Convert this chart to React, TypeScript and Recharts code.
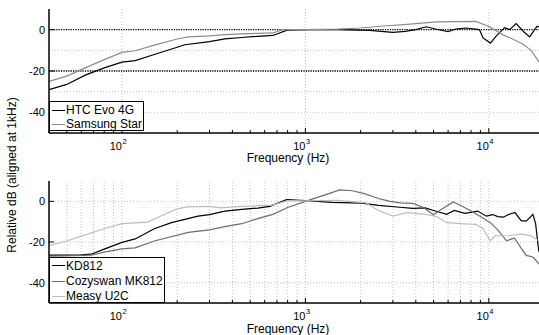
import { LineChart, Line, XAxis, YAxis, ReferenceLine, Label } from "recharts";

// frequency axis ticks (log decades with minor ticks)
const xTicks = [
  40, 50, 60, 70, 80, 90, 100, 200, 300, 400, 500, 600, 700, 800, 900, 1000,
  2000, 3000, 4000, 5000, 6000, 7000, 8000, 9000, 10000, 20000,
];
const majorX = [100, 1000, 10000];
const yTicks = [0, -20, -40];
const topGridY = [0, -10, -20, -30, -40];
const topRefY = [0, -20];
const bottomGridY = [0, -20, -40];
const bottomGridX = xTicks.filter((f) => f > 40 && f < 20000);

// top panel: phones
const htcFreq = [
  40, 50, 63, 80, 100, 118, 150, 200, 220, 300, 364, 450, 550, 665, 795, 1000,
  1500, 2240, 3000, 3500, 4000, 4560, 5200, 6000, 6600, 7500, 8900, 9300,
  10200, 11000, 12200, 13000, 14100, 15500, 16700, 18300, 20000,
];
const htcDb = [
  -29, -26.5, -22, -18.5, -15.7, -15, -12, -8.5, -7.3, -5.8, -4.5, -3.8, -3.2,
  -2.8, -0.2, 0, 0, -0.3, -1.3, -0.8, 0, 1.4, 0.2, -0.9, 0.3, 0.8, 0, -4, -6.5,
  -3, 1, 0, 2.9, -1, -3.5, 1.6, 1,
];
const samsungFreq = [
  40, 50, 63, 80, 100, 118, 150, 200, 230, 300, 364, 450, 550, 665, 750, 1000,
  1500, 2000, 2770, 3300, 4000, 5190, 6500, 8500, 9700, 10000, 11900, 13500,
  15300, 17000, 18700, 20000,
];
const samsungDb = [
  -25, -22.5, -18.5, -14.5, -11, -10.2, -7.5, -4.5, -3.5, -3, -2.4, -2, -1.8,
  -1.6, 0, 0, 0.3, 0.8, 1.9, 2.3, 2.9, 3.8, 3.9, 4, 2, 1.6, -2.4, -4.5, -6.9,
  -10, -15.3, -18,
];

// bottom panel: adapters
const kdFreq = [
  40, 50, 60, 68, 80, 100, 118, 150, 186, 260, 300, 364, 450, 550, 640, 790,
  1000, 1400, 2040, 2500, 3270, 3860, 4500, 5000, 5890, 6500, 7400, 8700,
  9700, 10500, 11200, 12000, 12800, 13900, 15000, 16000, 17400, 18000, 18700,
  20000,
];
const kdDb = [
  -26.5, -26.5, -26.3, -26, -23.5, -20.2, -18.5, -13.5, -10.5, -7.3, -6.5,
  -4.8, -4, -3.3, -2.5, 0.8, 0.3, -0.5, -0.9, -2, -2.9, -3.5, -3.2, -4.5, -6.4,
  -4.5, -5.9, -4.8, -7.3, -6.5, -7.5, -7.8, -6.5, -5.5, -9.5, -9.7, -6.4, -11,
  -24, -31,
];
const cozyFreq = [
  40, 50, 68, 80, 100, 118, 150, 230, 300, 364, 450, 550, 665, 800, 1000, 1280,
  1540, 1800, 2100, 2500, 2900, 3300, 3860, 4400, 5000, 5600, 6400, 7200, 8000,
  9000, 10200, 11200, 12500, 13800, 15000, 16000, 17500, 18700, 20000,
];
const cozyDb = [
  -27, -26.8, -26.5, -25, -23.4, -22.9, -19.5, -15.3, -14, -12.4, -11, -8.5,
  -6.4, -3, 0, 3.2, 5.6, 5.2, 3.8, 1.4, 0, -0.8, -1, -3, -6.6, -3.5, -0.3,
  -2.5, -4.8, -7.5, -10.5, -14, -19.4, -18, -23, -26.6, -27.5, -30.7, -32,
];
const measyFreq = [
  40, 50, 63, 80, 100, 138, 195, 225, 300, 342, 450, 665, 800, 1000, 1500,
  1800, 2150, 2500, 3000, 3600, 4560, 5200, 5890, 7100, 8500, 9300, 10200,
  10800, 13000, 15300, 17000, 18700, 20000,
];
const measyDb = [
  -21.8, -19.5, -16.5, -13.5, -11, -10.2, -4, -2.7, -2.5, -3.2, -2.5, -1.9,
  0.3, 0.2, 0.5, -0.1, -0.8, -4.5, -7.3, -5.6, -6.4, -7.5, -10.5, -11, -11.3,
  -13.5, -19.4, -17, -16.8, -16.1, -17, -19.4, -20,
];

const topSeries = [
  { name: "HTC Evo 4G", freq: htcFreq, db: htcDb, color: "#000000" },
  { name: "Samsung Star", freq: samsungFreq, db: samsungDb, color: "#8c8c8c" },
];
const bottomSeries = [
  { name: "KD812", freq: kdFreq, db: kdDb, color: "#000000" },
  { name: "Cozyswan MK812", freq: cozyFreq, db: cozyDb, color: "#6e6e6e" },
  { name: "Measy U2C", freq: measyFreq, db: measyDb, color: "#bdbdbd" },
];

const FONT = "'Liberation Sans', Arial, Helvetica, sans-serif";

function BottomTick(props: any) {
  const { x, y, payload } = props;
  const v = payload.value;
  const major = majorX.includes(v);
  const exp = Math.round(Math.log10(v));
  return (
    <g>
      <line x1={x} x2={x} y1={y} y2={y - (major ? 5 : 3)} stroke="#000" strokeWidth={1} />
      {major && (
        <text fontFamily={FONT} fill="#000">
          <tspan x={x} y={y + 16.5} fontSize={11} textAnchor="end">10</tspan>
          <tspan x={x + 0.5} y={y + 11} fontSize={7.5} textAnchor="start">{exp}</tspan>
        </text>
      )}
    </g>
  );
}

function TopTick(props: any) {
  const { x, y, payload } = props;
  const major = majorX.includes(payload.value);
  return <line x1={x} x2={x} y1={y} y2={y + (major ? 5 : 3)} stroke="#000" strokeWidth={1} />;
}

function LeftTick(props: any) {
  const { x, y, payload } = props;
  return (
    <g>
      <line x1={x} x2={x + 5} y1={y} y2={y} stroke="#000" strokeWidth={1} />
      <text x={x - 4} y={y + 4} textAnchor="end" fontSize={11} fontFamily={FONT} fill="#000">
        {payload.value}
      </text>
    </g>
  );
}

function LegendBox({ items, left, top, width, rows }: any) {
  return (
    <div
      style={{
        position: "absolute",
        left,
        top,
        width,
        height: rows[rows.length - 1] + 8,
        border: "1.5px solid #000",
        boxSizing: "border-box",
        background: "#fff",
        fontFamily: FONT,
        fontSize: 12,
      }}
    >
      {items.map((s: any, i: number) => (
        <div key={s.name} style={{ position: "absolute", left: 2, top: rows[i] - 8, height: 16, display: "flex", alignItems: "center", whiteSpace: "nowrap" }}>
          <div style={{ width: 13, height: 0, borderTop: `1.3px solid ${s.color}`, marginRight: 1 }} />
          <span>{s.name}</span>
        </div>
      ))}
    </div>
  );
}

function Panel({ series, height, marginTop, axisHeight, gridX, gridY, refY, labelDy }: any) {
  return (
    <LineChart width={560} height={height} margin={{ top: marginTop, right: 16, bottom: 0, left: 0 }}>
      {gridX.map((f: number) => (
        <ReferenceLine key={"gx" + f} x={f} stroke="#b4b4b4" strokeDasharray="1 2" strokeWidth={0.8} />
      ))}
      {gridY.map((v: number) => (
        <ReferenceLine key={"gy" + v} y={v} stroke="#b4b4b4" strokeDasharray="1 2" strokeWidth={0.8} />
      ))}
      {refY.map((v: number) => (
        <ReferenceLine key={"ry" + v} y={v} stroke="#000" strokeDasharray="1.2 1.2" strokeWidth={1.4} />
      ))}
      <XAxis
        dataKey="f"
        type="number"
        scale="log"
        domain={[40, 20000]}
        allowDataOverflow
        ticks={xTicks}
        interval={0}
        height={axisHeight}
        tickSize={0}
        tickMargin={0}
        tickLine={false}
        axisLine={{ stroke: "#000", strokeWidth: 1.5 }}
        tick={<BottomTick />}
      >
        <Label
          content={(p: any) => (
            <text x={288} y={p.viewBox.y + labelDy} textAnchor="middle" fontSize={12} fontFamily={FONT} fill="#000">
              Frequency (Hz)
            </text>
          )}
        />
      </XAxis>
      <XAxis
        xAxisId="top"
        orientation="top"
        dataKey="f"
        type="number"
        scale="log"
        domain={[40, 20000]}
        allowDataOverflow
        ticks={xTicks}
        interval={0}
        height={0}
        tickSize={0}
        tickMargin={0}
        tickLine={false}
        axisLine={{ stroke: "#000", strokeWidth: 1.5 }}
        tick={<TopTick />}
      />
      <YAxis
        type="number"
        domain={[-50, 10]}
        allowDataOverflow
        ticks={yTicks}
        interval={0}
        width={49}
        tickSize={0}
        tickMargin={0}
        tickLine={false}
        axisLine={{ stroke: "#000", strokeWidth: 1.5 }}
        tick={<LeftTick />}
      />
      {series.map((s: any) => (
        <Line
          key={s.name}
          data={s.freq.map((f: number, i: number) => ({ f, db: s.db[i] }))}
          dataKey="db"
          stroke={s.color}
          strokeWidth={1.2}
          dot={false}
          type="linear"
          isAnimationActive={false}
        />
      ))}
    </LineChart>
  );
}

export default function App() {
  return (
    <div style={{ position: "absolute", left: 0, top: 0, width: 539, height: 335, overflow: "hidden", background: "#fff" }}>
      <div style={{ position: "absolute", left: 0, top: 0 }}>
        <Panel series={topSeries} height={168} marginTop={9} axisHeight={35} gridX={majorX} gridY={topGridY} refY={topRefY} labelDy={29} />
      </div>
      <div style={{ position: "absolute", left: 0, top: 168 }}>
        <Panel series={bottomSeries} height={167} marginTop={13} axisHeight={32} gridX={bottomGridX} gridY={bottomGridY} refY={[]} labelDy={29.5} />
      </div>
      <LegendBox items={topSeries} left={49} top={100.5} width={95} rows={[8.5, 22.8]} />
      <LegendBox items={bottomSeries} left={49} top={256.7} width={116} rows={[8.3, 23.8, 38.8]} />
      <div
        style={{
          position: "absolute",
          left: 12,
          top: 174.5,
          transform: "translate(-50%, -50%) rotate(-90deg)",
          whiteSpace: "nowrap",
          fontFamily: FONT,
          fontSize: 12,
        }}
      >
        Relative dB (aligned at 1kHz)
      </div>
    </div>
  );
}
